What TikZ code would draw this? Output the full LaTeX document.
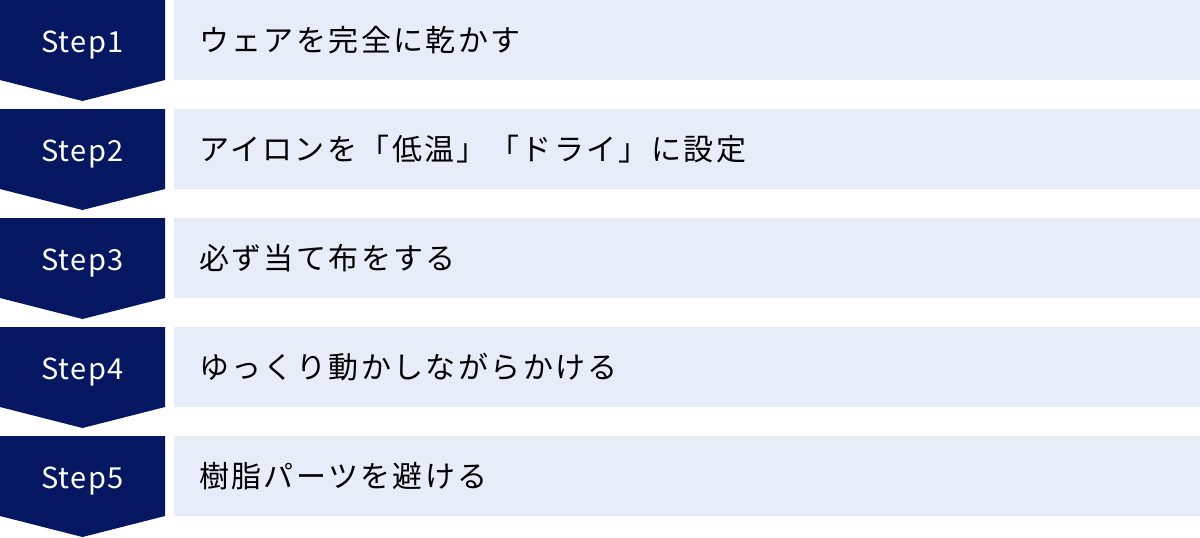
\documentclass[tikz,border=0pt]{standalone}
\usepackage{fontspec}
\newfontfamily\jpfont{Noto Sans CJK JP}[LetterSpace=8]
\newfontfamily\stepfont{Noto Sans CJK JP}[LetterSpace=5]
\definecolor{navy}{HTML}{041760}
\definecolor{pale}{HTML}{E6ECF8}
\tikzset{
  chevron/.style={fill=navy},
  band/.style={fill=pale},
  steplabel/.style={text=white, font=\stepfont\fontsize{29}{33}\selectfont, inner sep=0pt, anchor=base},
  bandlabel/.style={text=black, font=\jpfont\fontsize{30}{34}\selectfont, inner sep=0pt, anchor=west},
}
\begin{document}
\begin{tikzpicture}[x=1pt,y=-1pt]
\useasboundingbox (0,0) rectangle (1200,538);
\foreach \i/\txt in {0/ウェアを完全に乾かす,1/アイロンを「低温」「ドライ」に設定,2/必ず当て布をする,3/ゆっくり動かしながらかける,4/樹脂パーツを避ける}{
  \pgfmathsetmacro{\t}{109*\i}
  \pgfmathtruncatemacro{\n}{\i+1}
  \fill[chevron] (0,\t) -- (165,\t) -- (165,\t+80) -- (82.5,\t+101) -- (0,\t+80) -- cycle;
  \fill[band] (174,\t) rectangle (1200,\t+80);
  \node[steplabel] (step\n) at (82.5,\t+52.5) {Step\n};
  \node[bandlabel] (text\n) at (199,\t+40) {\txt};
}
\end{tikzpicture}
\end{document}
